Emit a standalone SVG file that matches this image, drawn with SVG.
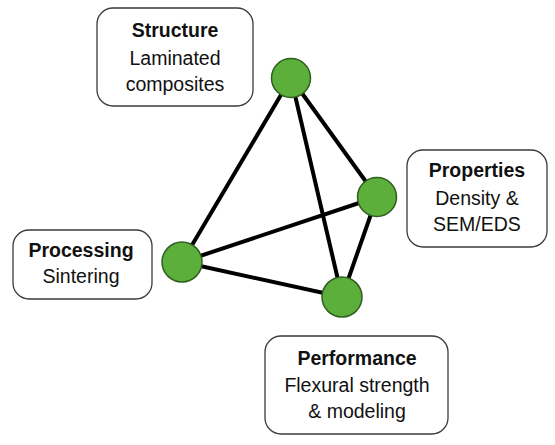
<svg xmlns="http://www.w3.org/2000/svg" width="555" height="445" viewBox="0 0 555 445">
<style>
.box{fill:#fff;stroke:#3a3a3a;stroke-width:1.3}
.t{font-family:"Liberation Sans",Arial,sans-serif;font-size:19.5px;fill:#111;text-anchor:middle}
.b{font-weight:bold}
.edge{stroke:#000;stroke-width:4;stroke-linecap:round}
.v{fill:#5DAF3C;stroke:#2F5E1E;stroke-width:1.5}
</style>
<rect width="555" height="445" fill="#fff"/>
<g id="connectors">
<line class="edge" x1="291" y1="78" x2="182" y2="262"/>
<line class="edge" x1="291" y1="78" x2="342" y2="297"/>
<line class="edge" x1="291" y1="78" x2="377" y2="197"/>
<line class="edge" x1="182" y1="262" x2="377" y2="197"/>
<line class="edge" x1="182" y1="262" x2="342" y2="297"/>
<line class="edge" x1="377" y1="197" x2="342" y2="297"/>
</g>
<g id="structure">
<rect class="box" x="97" y="8" width="156" height="98" rx="16"/>
<text class="t b" x="175" y="37">Structure</text>
<text class="t" x="175" y="65">Laminated</text>
<text class="t" x="175" y="91">composites</text>
</g>
<g id="properties">
<rect class="box" x="407" y="150" width="140" height="97" rx="16"/>
<text class="t b" x="477" y="177">Properties</text>
<text class="t" x="477" y="205">Density &amp;</text>
<text class="t" x="477" y="231">SEM/EDS</text>
</g>
<g id="processing">
<rect class="box" x="13" y="230" width="139" height="69" rx="16"/>
<text class="t b" x="81" y="257">Processing</text>
<text class="t" x="81" y="283">Sintering</text>
</g>
<g id="performance">
<rect class="box" x="265" y="336" width="183" height="98" rx="16"/>
<text class="t b" x="357" y="365">Performance</text>
<text class="t" x="357" y="392">Flexural strength</text>
<text class="t" x="357" y="418">&amp; modeling</text>
</g>
<g id="vertex-top"><circle class="v" cx="291" cy="78" r="19.5"/></g>
<g id="vertex-right"><circle class="v" cx="377" cy="197" r="19.5"/></g>
<g id="vertex-left"><circle class="v" cx="182" cy="262" r="20"/></g>
<g id="vertex-bottom"><circle class="v" cx="342" cy="297" r="20"/></g>
</svg>
